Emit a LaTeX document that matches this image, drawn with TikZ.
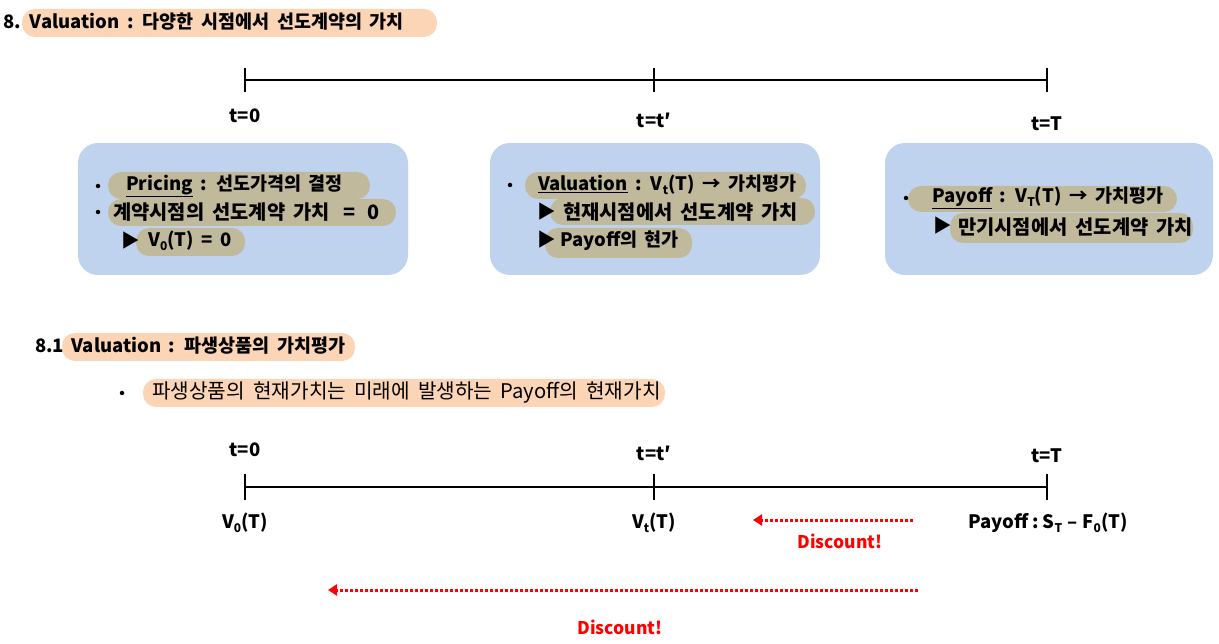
\documentclass[tikz,border=0pt]{standalone}
\usepackage{fontspec}
\setmainfont{Noto Sans CJK KR}[WordSpace=1.8]
\usetikzlibrary{arrows.meta}
\definecolor{boxblue}{RGB}{192,211,238}
\definecolor{peach}{RGB}{251,213,181}
\definecolor{khaki}{RGB}{192,185,156}
\definecolor{dred}{RGB}{255,0,0}
\newcommand{\lo}[1]{\raisebox{-0.4ex}{\fontsize{12}{12}\selectfont #1}}
\tikzset{
  panel/.style={fill=boxblue, rounded corners=20pt},
  hlp/.style={fill=peach, rounded corners=13pt},
  hlk/.style={fill=khaki, rounded corners=13pt},
  txt/.style={anchor=west, inner sep=0pt, font=\fontsize{18.5}{22}\selectfont\bfseries},
  ktxt/.style={anchor=west, inner sep=0pt, font=\fontsize{19.8}{22}\selectfont\bfseries},
  rtxt/.style={anchor=west, inner sep=0pt, font=\fontsize{20.2}{22}\selectfont},
  lbl/.style={inner sep=0pt, font=\fontsize{18.5}{22}\selectfont\bfseries},
  bul/.style={circle, fill=black, inner sep=0pt, minimum size=4.5pt},
  axis/.style={line width=2.2pt},
  disc/.style={dred, line width=3pt, dash pattern=on 3pt off 2pt, -{Triangle[length=9pt,width=11pt]}},
  dlbl/.style={inner sep=0pt, text=dred, font=\fontsize{17.5}{20}\selectfont\bfseries}
}
\begin{document}
\begin{tikzpicture}[x=1pt,y=-1pt]
\useasboundingbox (0,0) rectangle (1219,644);
% title
\fill[hlp] (22,9) rectangle (437,37);
\node[txt] (title) at (3,22) {8. Valuation : 다양한 시점에서 선도계약의 가치};
% top timeline
\coordinate (a0) at (245,80);
\coordinate (a1) at (654,80);
\coordinate (a2) at (1047,80);
\draw[axis] (a0) -- (a2);
\foreach \c in {a0,a1,a2} \draw[axis] ([yshift=-12pt]\c) -- ([yshift=12pt]\c);
\node[lbl] (ta0) at (245,116) {t=0};
\node[lbl] (ta1) at (654,120) {t=t′};
\node[lbl] (ta2) at (1047,124) {t=T};
% panels
\fill[panel] (78,143) rectangle (408,275);
\fill[panel] (490,143) rectangle (820,275);
\fill[panel] (885,143) rectangle (1213,275);
% panel 1
\fill[hlk] (108,199) rectangle (396,226);
\fill[hlk] (108,172) rectangle (370,199);
\fill[hlk] (136,228) rectangle (245,256);
\node[bul] (b11) at (98,186) {};
\node[txt] (p11) at (126,186) {\underline{Pricing} : 선도가격의 결정};
\node[bul] (b12) at (98,212) {};
\node[ktxt] (p12) at (113,212) {계약시점의 선도계약 가치\hspace{5pt} =\hspace{4pt} 0};
\node[txt] (r13) at (121,241) {▶};
\node[txt] (p13) at (148,241) {V\lo{0}(T) = 0};
% panel 2
\fill[hlk] (550,198) rectangle (815,225);
\fill[hlk] (525,172) rectangle (806,199);
\fill[hlk] (545,228) rectangle (692,258);
\node[bul] (b21) at (510,185) {};
\node[txt] (p21) at (538,185) {\underline{Valuation} : V\lo{t}(T) → 가치평가};
\node[txt] (r22) at (537,212) {▶};
\node[ktxt] (p22) at (563,212) {현재시점에서 선도계약 가치};
\node[txt] (r23) at (537,240) {▶};
\node[txt] (p23) at (560,241) {Payoff의 현가};
% panel 3
\fill[hlk] (950,213) rectangle (1193,243);
\fill[hlk] (908,186) rectangle (1177,212);
\node[bul] (b31) at (906,198) {};
\node[txt] (p31) at (932,198) {\underline{Payoff} : V\lo{T}(T) → 가치평가};
\node[txt] (r32) at (933,226) {▶};
\node[ktxt] (p32) at (958,227) {만기시점에서 선도계약 가치};
% section 8.1
\fill[hlp] (62,333) rectangle (355,361);
\node[txt] (sub) at (35,346) {8.1 Valuation : 파생상품의 가치평가};
\fill[hlp] (143,379) rectangle (665,407);
\node[bul] (b41) at (122,393) {};
\node[rtxt] (p41) at (152,393) {파생상품의 현재가치는 미래에 발생하는 Payoff의 현재가치};
% bottom timeline
\coordinate (c0) at (245,487);
\coordinate (c1) at (654,487);
\coordinate (c2) at (1047,487);
\draw[axis] (c0) -- (c2);
\foreach \c in {c0,c1,c2} \draw[axis] ([yshift=-13pt]\c) -- ([yshift=13pt]\c);
\node[lbl] (tb0) at (245,450) {t=0};
\node[lbl] (tb1) at (654,453) {t=t′};
\node[lbl] (tb2) at (1047,456) {t=T};
\node[lbl] (v0) at (245,523) {V\lo{0}(T)};
\node[lbl] (vt) at (654,523) {V\lo{t}(T)};
\node[lbl] (pay) at (1048,523) {Payoff\hspace{4pt}:\hspace{4pt}S\lo{T}\hspace{5pt}–\hspace{5pt}F\lo{0}(T)};
% discount arrows
\coordinate (d1s) at (913,520);
\coordinate (d1e) at (753,520);
\draw[disc] (d1s) -- (d1e);
\node[dlbl] (dl1) at (840,541) {Discount!};
\coordinate (d2s) at (918,590);
\coordinate (d2e) at (328,590);
\draw[disc] (d2s) -- (d2e);
\node[dlbl] (dl2) at (620,627) {Discount!};
\end{tikzpicture}
\end{document}
